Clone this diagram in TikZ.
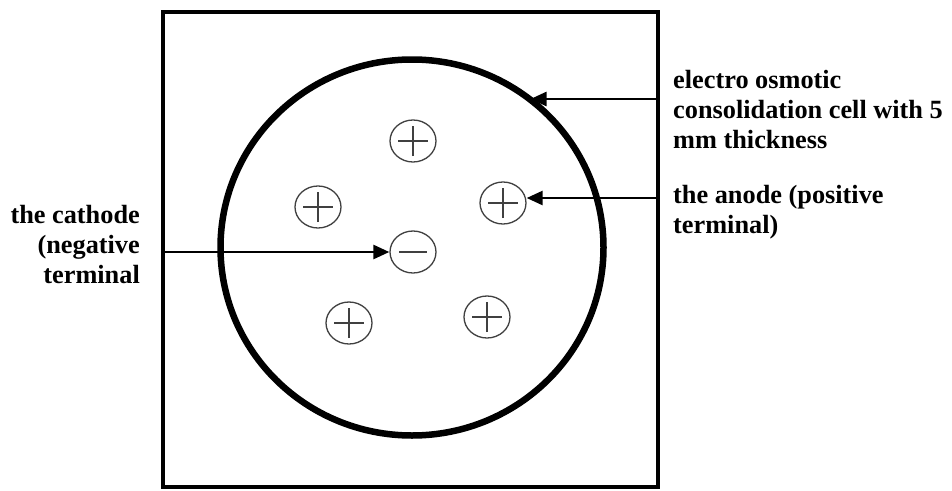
\documentclass[tikz,border=0pt]{standalone}
\usepackage{fontspec}
\setmainfont{Liberation Serif}
\usetikzlibrary{shapes.geometric,arrows.meta}
\begin{document}
\begin{tikzpicture}[x=1pt,y=-1pt,
  frame/.style={draw, line width=4pt, minimum width=495pt, minimum height=475pt, inner sep=0pt},
  cellring/.style={ellipse, draw, line width=6.5pt, minimum width=383pt, minimum height=376pt, inner sep=0pt},
  ion/.style={ellipse, draw=black!75, line width=1.3pt, minimum width=46pt, minimum height=42pt, inner sep=0pt},
  posion/.style={ion, path picture={
      \draw[line width=1.4pt] ([xshift=-15pt]path picture bounding box.center) -- ++(30pt,0pt);
      \draw[line width=1.4pt] ([yshift=-15pt]path picture bounding box.center) -- ++(0pt,30pt);}},
  negion/.style={ion, path picture={
      \draw[line width=1.4pt] ([xshift=-14pt]path picture bounding box.center) -- ++(28pt,0pt);}},
  arr/.style={line width=2.6pt, -{Triangle[length=16pt,width=14pt]}},
  lbl/.style={font=\fontsize{26.3}{30}\selectfont\bfseries, inner sep=0pt}
]
\useasboundingbox (0,0) rectangle (952,490);
\node[frame] (box) at (410.5,249.5) {};
\node[cellring] (cell) at (412,247.5) {};
\node[posion] (p1) at (413,141) {};
\node[posion] (p2) at (318,207) {};
\node[posion] (p3) at (503,203) {};
\node[negion] (m1) at (413,252) {};
\node[posion] (p4) at (349,323) {};
\node[posion] (p5) at (487,317) {};
\coordinate (s1) at (657,99);
\coordinate (s2) at (657,198);
\coordinate (s3) at (161,252);
\draw[arr] (s1) -- (s1 -| cell.52);
\draw[arr] (s2) -- (s2 -| p3.east);
\draw[arr] (s3) -- (m1.west);
\node[lbl, align=left, anchor=base west] (t1) at (673,148) {electro osmotic\\consolidation cell with 5\\mm thickness};
\node[lbl, align=left, anchor=base west] (t2) at (673,233) {the anode (positive\\terminal)};
\node[lbl, align=right, anchor=base east] (t3) at (140,283) {the cathode\\(negative\\terminal};
\end{tikzpicture}
\end{document}
